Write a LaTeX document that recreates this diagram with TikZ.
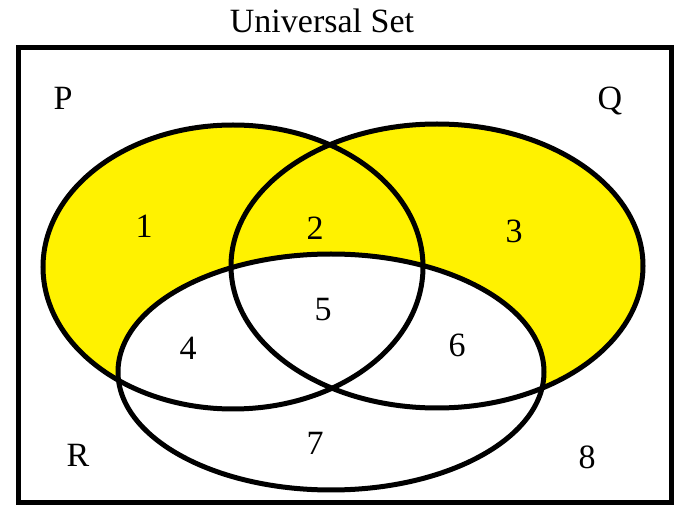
\documentclass[tikz,border=0pt]{standalone}
\usepackage{fontspec}
\setmainfont{Liberation Serif}
\usetikzlibrary{shapes.geometric}
\definecolor{vennyellow}{RGB}{255,242,0}
\begin{document}
\begin{tikzpicture}[x=1pt,y=-1pt,
  outline/.style={line width=5pt, draw=black},
  lbl/.style={anchor=base, inner sep=0pt, font=\fontsize{34}{40}\selectfont}]
\useasboundingbox (0,0) rectangle (689,521);
% fills
\fill[vennyellow] (233,267) ellipse [x radius=190, y radius=142];
\fill[vennyellow] (437,266) ellipse [x radius=206, y radius=142];
\fill[white] (331,372) ellipse [x radius=213, y radius=118];
% outlines
\draw[outline] (18,48) rectangle (671,503);
\draw[outline] (233,267) ellipse [x radius=190, y radius=142];
\draw[outline] (437,266) ellipse [x radius=206, y radius=142];
\draw[outline] (331,372) ellipse [x radius=213, y radius=118];
% labels
\node[lbl] (title) at (322,33) {Universal Set};
\node[lbl] (lP) at (63,110) {P};
\node[lbl] (lQ) at (610,110) {Q};
\node[lbl] (lR) at (78,467) {R};
\node[lbl] (n1) at (144,238) {1};
\node[lbl] (n2) at (315,240) {2};
\node[lbl] (n3) at (514,243) {3};
\node[lbl] (n4) at (188,360) {4};
\node[lbl] (n5) at (323,321) {5};
\node[lbl] (n6) at (457,357) {6};
\node[lbl] (n7) at (315,455) {7};
\node[lbl] (n8) at (587,469) {8};
\end{tikzpicture}
\end{document}
